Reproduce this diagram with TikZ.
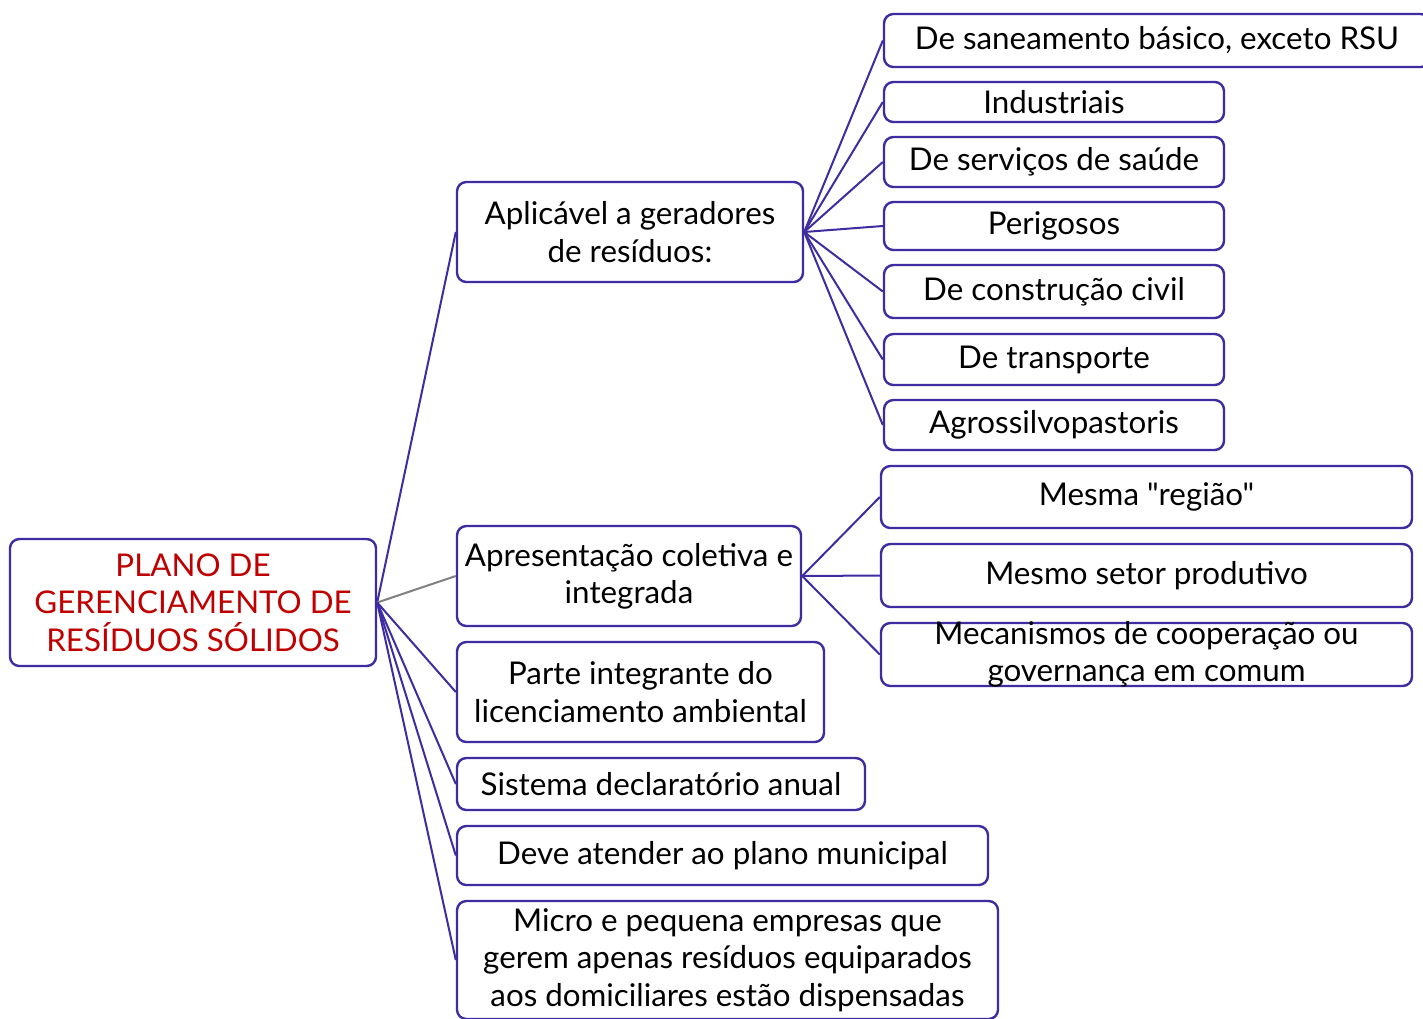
\documentclass[tikz,border=0pt]{standalone}
\usepackage{fontspec}
\setmainfont{Lato}
\newfontfamily\qfont{Lato}
\definecolor{bcol}{RGB}{62,44,160}
\definecolor{rcol}{RGB}{192,0,0}
\definecolor{gcol}{RGB}{128,128,128}
\begin{document}
\begin{tikzpicture}[x=0.75pt,y=-0.75pt,
  box/.style={draw=bcol, line width=1.8pt, rounded corners=7pt, align=center, inner sep=0pt,
    font=\fontsize{23.5}{28}\selectfont, text=black},
  conn/.style={draw=bcol, line width=1.5pt},
  gconn/.style={draw=gcol, line width=1.5pt}]
\useasboundingbox (0,0) rectangle (1423,1018);
\clip (0,0) rectangle (1423,1018);
\fill[white] (0,0) rectangle (1423,1018);
% root
\node[box, text=rcol, minimum width=366*0.75pt, minimum height=127*0.75pt] (root) at (193,602.5)
  {PLANO DE\\GERENCIAMENTO DE\\RESÍDUOS SÓLIDOS};
% level 1
\node[box, minimum width=346*0.75pt, minimum height=100*0.75pt] (a1) at (630,232) {Aplicável a geradores\\de resíduos:};
\node[box, minimum width=344*0.75pt, minimum height=100*0.75pt] (a2) at (629,576) {Apresentação coletiva e\\integrada};
\node[box, minimum width=367*0.75pt, minimum height=100*0.75pt] (a3) at (640.5,692) {Parte integrante do\\licenciamento ambiental};
\node[box, minimum width=408*0.75pt, minimum height=52*0.75pt] (a4) at (661,784) {Sistema declaratório anual};
\node[box, minimum width=531*0.75pt, minimum height=59*0.75pt] (a5) at (722.5,855.5) {Deve atender ao plano municipal};
\node[box, minimum width=541*0.75pt, minimum height=118*0.75pt] (a6) at (727.5,960) {Micro e pequena empresas que\\gerem apenas resíduos equiparados\\aos domiciliares estão dispensadas};
% leaves of a1
\node[box, minimum width=546*0.75pt, minimum height=53*0.75pt] (b1) at (1157,40.5) {De saneamento básico, exceto RSU};
\node[box, minimum width=340*0.75pt, minimum height=40*0.75pt] (b2) at (1054,102) {Industriais};
\node[box, minimum width=340*0.75pt, minimum height=50*0.75pt] (b3) at (1054,162) {De serviços de saúde};
\node[box, minimum width=340*0.75pt, minimum height=48*0.75pt] (b4) at (1054,226) {Perigosos};
\node[box, minimum width=340*0.75pt, minimum height=53*0.75pt] (b5) at (1054,291.5) {De construção civil};
\node[box, minimum width=340*0.75pt, minimum height=51*0.75pt] (b6) at (1054,359.5) {De transporte};
\node[box, minimum width=340*0.75pt, minimum height=50*0.75pt] (b7) at (1054,425) {Agrossilvopastoris};
% leaves of a2
\node[box, minimum width=531*0.75pt, minimum height=62*0.75pt] (c1) at (1146.5,497) {\qfont Mesma "região"};
\node[box, minimum width=531*0.75pt, minimum height=63*0.75pt] (c2) at (1146.5,575.5) {Mesmo setor produtivo};
\node[box, minimum width=531*0.75pt, minimum height=63*0.75pt] (c3) at (1146.5,654.5) {};
\node[align=center, inner sep=0pt, font=\fontsize{23.5}{28}\selectfont] (c3t) at (1146.5,654) {Mecanismos de cooperação ou\\governança em comum};
% connectors
\draw[conn] (root.east) -- (a1.west);
\draw[gconn] (root.east) -- (a2.west);
\foreach \n in {a3,a4,a5,a6} \draw[conn] (root.east) -- (\n.west);
\foreach \n in {b1,b2,b3,b4,b5,b6,b7} \draw[conn] (a1.east) -- (\n.west);
\foreach \n in {c1,c2,c3} \draw[conn] (a2.east) -- (\n.west);
\end{tikzpicture}
\end{document}
